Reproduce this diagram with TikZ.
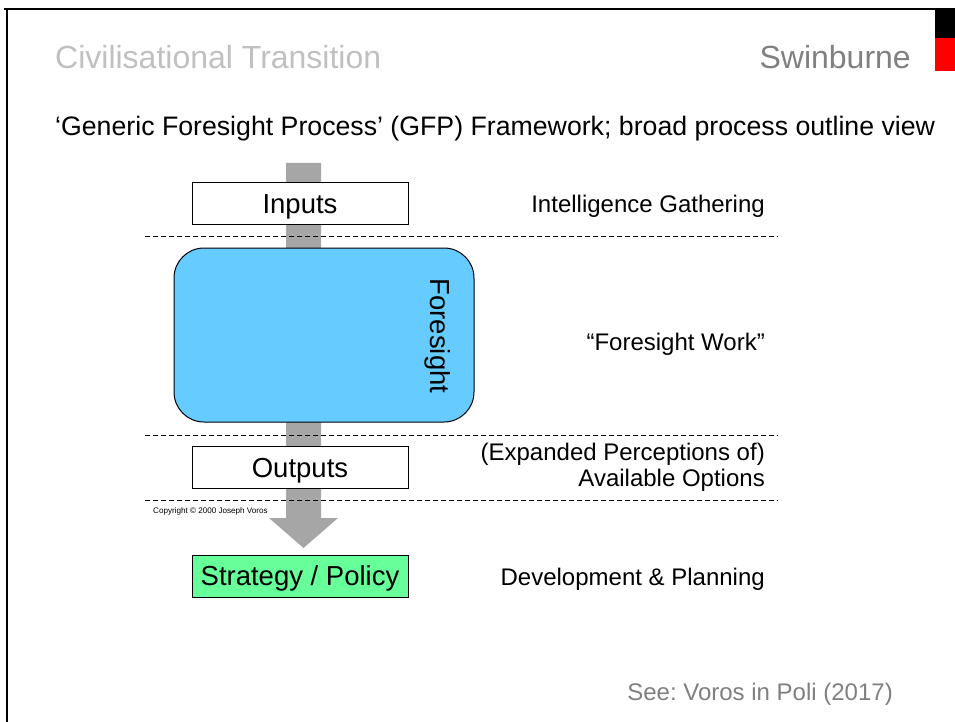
\documentclass[tikz,border=0pt]{standalone}
\usepackage{fontspec}
\setmainfont{Liberation Sans}
\frenchspacing
\definecolor{titlegray}{HTML}{C0C0C0}
\definecolor{midgray}{HTML}{808080}
\definecolor{arrowgray}{HTML}{A6A6A6}
\definecolor{fsblue}{HTML}{66CCFF}
\definecolor{spgreen}{HTML}{66FF99}
\definecolor{swred}{HTML}{FF0000}
\tikzset{
  fbig/.style={font=\fontsize{32pt}{38pt}\selectfont},
  fmid/.style={font=\fontsize{24pt}{29pt}\selectfont},
  fsub/.style={font=\fontsize{26.7pt}{32pt}\selectfont},
  fbox/.style={font=\fontsize{27.5pt}{32pt}\selectfont},
  stagebox/.style={draw=black, line width=1pt, minimum width=216pt, minimum height=42pt, inner sep=0pt, text height=19.7pt, text depth=0pt, fbox},
  sepline/.style={draw=black, line width=0.9pt, dash pattern=on 5pt off 3pt},
  rlabel/.style={fmid, anchor=base east, inner sep=0pt, align=right},
}
\begin{document}
\begin{tikzpicture}[x=1pt, y=-1pt]
\useasboundingbox (0,0) rectangle (955,722);
\fill[white] (0,0) rectangle (955,722);
% frame
\draw[black, line width=2pt] (4,9.5) -- (935,9.5);
\draw[black, line width=2.5pt] (7,9) -- (7,722);
\fill[black] (935,8) rectangle (955,38);
\fill[swred] (935,38) rectangle (955,71);
% headings
\node[fbig, text=titlegray, anchor=base west, inner sep=0pt] (title) at (55,69) {Civilisational Transition};
\node[fbig, text=midgray, anchor=base east, inner sep=0pt] (swin) at (911,69) {Swinburne};
\node[fsub, anchor=base west, inner sep=0pt] (sub) at (55,136) {‘Generic Foresight Process’ (GFP) Framework; broad process outline view};
% big arrow
\fill[arrowgray] (286,163) -- (321,163) -- (321,518) -- (338,518) -- (303.5,548) -- (269,518) -- (286,518) -- cycle;
% separators
\coordinate (s1a) at (145,236); \coordinate (s1b) at (778,236);
\coordinate (s2a) at (145,435); \coordinate (s2b) at (778,435);
\coordinate (s3a) at (145,500); \coordinate (s3b) at (778,500);
\draw[sepline] (s1a) -- (s1b);
\draw[sepline] (s2a) -- (s2b);
\draw[sepline] (s3a) -- (s3b);
% boxes
\node[stagebox, fill=white] (inputs) at (300,203.5) {Inputs};
\node[draw=black, line width=1pt, fill=fsblue, rounded corners=30pt, minimum width=300pt, minimum height=174pt, inner sep=0pt] (fs) at (324,335) {};
\node[fbox, rotate=-90, inner sep=0pt] (fstext) at (438,336) {Foresight};
\node[stagebox, fill=white] (outputs) at (300,467.5) {Outputs};
\node[stagebox, fill=spgreen] (sp) at (300,576) {Strategy / Policy};
\node[font=\fontsize{8.1pt}{9pt}\selectfont, anchor=base west, inner sep=0pt] (copy) at (153,513) {Copyright © 2000 Joseph Voros};
% right labels
\node[rlabel] (l1) at (765,212.5) {Intelligence Gathering};
\node[rlabel] (l2) at (765,350.5) {“Foresight Work”};
\node[rlabel] (l3a) at (765,460) {(Expanded Perceptions of)};
\node[rlabel] (l3b) at (765,486) {Available Options};
\node[rlabel] (l4) at (765,585.5) {Development \& Planning};
\node[fmid, text=midgray, anchor=base east, inner sep=0pt] (see) at (893,700) {See: Voros in Poli (2017)};
\end{tikzpicture}
\end{document}
